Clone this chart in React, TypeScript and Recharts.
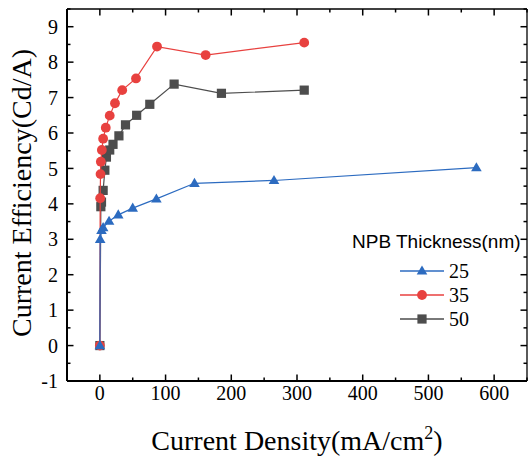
import React from 'react';
import { ScatterChart, Scatter, XAxis, YAxis, Legend, Label } from 'recharts';

// NPB thickness series (nm)
const seriesNames = ['25', '35', '50'];

// 25 nm
const j25 = [0, 0.5, 2.5, 5, 14, 28, 50, 86, 144, 265, 573];
const ce25 = [0, 3.0, 3.25, 3.33, 3.51, 3.69, 3.88, 4.14, 4.58, 4.66, 5.02];

// 35 nm
const j35 = [0, 0.5, 1, 1.5, 3, 5, 9, 15, 23, 34, 55, 87, 161, 311];
const ce35 = [0, 4.16, 4.84, 5.19, 5.52, 5.84, 6.15, 6.49, 6.84, 7.21, 7.54, 8.44, 8.2, 8.55];

// 50 nm
const j50 = [0, 1.5, 2.5, 5, 7.6, 10, 15, 20, 29, 39, 56, 76, 113, 185, 311];
const ce50 = [0, 3.92, 4.05, 4.38, 4.95, 5.32, 5.52, 5.68, 5.92, 6.23, 6.5, 6.81, 7.38, 7.12, 7.21];

const xTicks = [0, 50, 100, 150, 200, 250, 300, 350, 400, 450, 500, 550, 600, 650];
const yTicks = [-1, -0.5, 0, 0.5, 1, 1.5, 2, 2.5, 3, 3.5, 4, 4.5, 5, 5.5, 6, 6.5, 7, 7.5, 8, 8.5, 9, 9.5];

const toPoints = (xs: number[], ys: number[]) => xs.map((x, i) => ({ x, y: ys[i] }));

const COLORS: Record<string, string> = { '25': '#2C6BC0', '35': '#E8413F', '50': '#4D4D4D' };
const SHAPES: Record<string, string> = { '25': 'triangle', '35': 'circle', '50': 'square' };

const SERIF = '"Liberation Serif", "Times New Roman", serif';
const SANS = '"Liberation Sans", Arial, sans-serif';

function Marker({ cx, cy, kind, color }: { cx: number; cy: number; kind: string; color: string }) {
  if (kind === 'circle') return <circle cx={cx} cy={cy} r={4.9} fill={color} />;
  if (kind === 'square') return <rect x={cx - 4.6} y={cy - 4.6} width={9.2} height={9.2} fill={color} />;
  return <path d={`M${cx},${cy - 5.5} L${cx + 5.3},${cy + 3.6} L${cx - 5.3},${cy + 3.6} Z`} fill={color} />;
}

const makeShape = (name: string) => (props: any) => {
  if (props.cx == null || props.cy == null) return <g />;
  return <Marker cx={props.cx} cy={props.cy} kind={SHAPES[name]} color={COLORS[name]} />;
};

const BottomTick = (props: any) => {
  const { x, y, payload } = props;
  const v = payload.value;
  const major = v % 100 === 0;
  return (
    <g>
      <line x1={x} x2={x} y1={y} y2={y - (major ? 6.5 : 3.5)} stroke="#000" strokeWidth={1.5} />
      {major && (
        <text x={x} y={y + 5} dy="0.71em" textAnchor="middle" fontFamily={SERIF} fontSize={20} fill="#000">
          {v}
        </text>
      )}
    </g>
  );
};

const TopTick = (props: any) => {
  const { x, y, payload } = props;
  const major = payload.value % 100 === 0;
  return <line x1={x} x2={x} y1={y} y2={y + (major ? 6.5 : 3.5)} stroke="#000" strokeWidth={1.5} />;
};

const LeftTick = (props: any) => {
  const { x, y, payload } = props;
  const v = payload.value;
  const major = Number.isInteger(v);
  return (
    <g>
      <line x1={x} x2={x + (major ? 6.5 : 3.5)} y1={y} y2={y} stroke="#000" strokeWidth={1.5} />
      {major && (
        <text x={x - 9} y={y} dy="0.355em" textAnchor="end" fontFamily={SERIF} fontSize={20} fill="#000">
          {v}
        </text>
      )}
    </g>
  );
};

const RightTick = (props: any) => {
  const { x, y, payload } = props;
  const major = Number.isInteger(payload.value);
  return <line x1={x} x2={x - (major ? 6.5 : 3.5)} y1={y} y2={y} stroke="#000" strokeWidth={1.5} />;
};

const XTitle = () => (
  <text x={297} y={450} textAnchor="middle" fontFamily={SERIF} fontSize={28} fill="#000">
    Current Density(mA/cm
    <tspan fontSize={18} dy={-11}>2</tspan>
    <tspan dy={11}>)</tspan>
  </text>
);

const YTitle = () => (
  <text
    x={0}
    y={0}
    transform="translate(31,193) rotate(-90)"
    textAnchor="middle"
    fontFamily={SERIF}
    fontSize={28}
    fill="#000"
  >
    Current Efficiency(Cd/A)
  </text>
);

const renderLegend = () => (
  <svg width={528} height={457} style={{ position: 'absolute', left: 0, top: 0 }}>
    <text x={352} y={248} fontFamily={SANS} fontSize={19} fill="#000">
      NPB Thickness(nm)
    </text>
    {seriesNames.map((name, i) => {
      const cy = 271 + i * 24;
      return (
        <g key={name}>
          <line x1={400} x2={444} y1={cy} y2={cy} stroke={COLORS[name]} strokeWidth={1.3} />
          <Marker cx={422} cy={cy} kind={SHAPES[name]} color={COLORS[name]} />
          <text x={449} y={cy} dy="0.355em" fontFamily={SERIF} fontSize={20} fill="#000">
            {name}
          </text>
        </g>
      );
    })}
  </svg>
);

const seriesData: Record<string, { x: number; y: number }[]> = {
  '25': toPoints(j25, ce25),
  '35': toPoints(j35, ce35),
  '50': toPoints(j50, ce50),
};

const drawOrder = ['50', '35', '25'];

export default function App() {
  return (
    <div style={{ position: 'absolute', left: 0, top: 0 }}>
      <ScatterChart width={528} height={457} margin={{ top: 8, right: 0, bottom: 0, left: 0 }}>
        <XAxis
          xAxisId="b"
          dataKey="x"
          type="number"
          domain={[-50, 650]}
          allowDataOverflow
          ticks={xTicks}
          interval={0}
          height={76}
          tickLine={false}
          tickSize={0}
          tickMargin={0}
          tick={BottomTick}
          axisLine={{ stroke: '#000', strokeWidth: 2 }}
        >
          <Label content={XTitle} />
        </XAxis>
        <XAxis
          xAxisId="t"
          orientation="top"
          dataKey="x"
          type="number"
          domain={[-50, 650]}
          allowDataOverflow
          ticks={xTicks}
          interval={0}
          height={1}
          tickLine={false}
          tickSize={0}
          tickMargin={0}
          tick={TopTick}
          axisLine={{ stroke: '#000', strokeWidth: 1.3 }}
        />
        <YAxis
          yAxisId="l"
          dataKey="y"
          type="number"
          domain={[-1, 9.5]}
          allowDataOverflow
          ticks={yTicks}
          interval={0}
          width={67}
          tickLine={false}
          tickSize={0}
          tickMargin={0}
          tick={LeftTick}
          axisLine={{ stroke: '#000', strokeWidth: 2 }}
        >
          <Label content={YTitle} />
        </YAxis>
        <YAxis
          yAxisId="r"
          orientation="right"
          dataKey="y"
          type="number"
          domain={[-1, 9.5]}
          allowDataOverflow
          ticks={yTicks}
          interval={0}
          width={1}
          tickLine={false}
          tickSize={0}
          tickMargin={0}
          tick={RightTick}
          axisLine={{ stroke: '#000', strokeWidth: 1.3 }}
        />
        <Legend
          content={renderLegend}
          layout="horizontal"
          verticalAlign="middle"
          align="center"
          wrapperStyle={{ position: 'absolute', left: 0, top: 0, width: 528, height: 457, pointerEvents: 'none' }}
        />
        {drawOrder.map((name) => (
          <Scatter
            key={name}
            name={name}
            xAxisId="b"
            yAxisId="l"
            data={seriesData[name]}
            fill={COLORS[name]}
            line={{ stroke: COLORS[name], strokeWidth: 1.2 }}
            lineType="joint"
            shape={makeShape(name)}
            isAnimationActive={false}
          />
        ))}
      </ScatterChart>
    </div>
  );
}
